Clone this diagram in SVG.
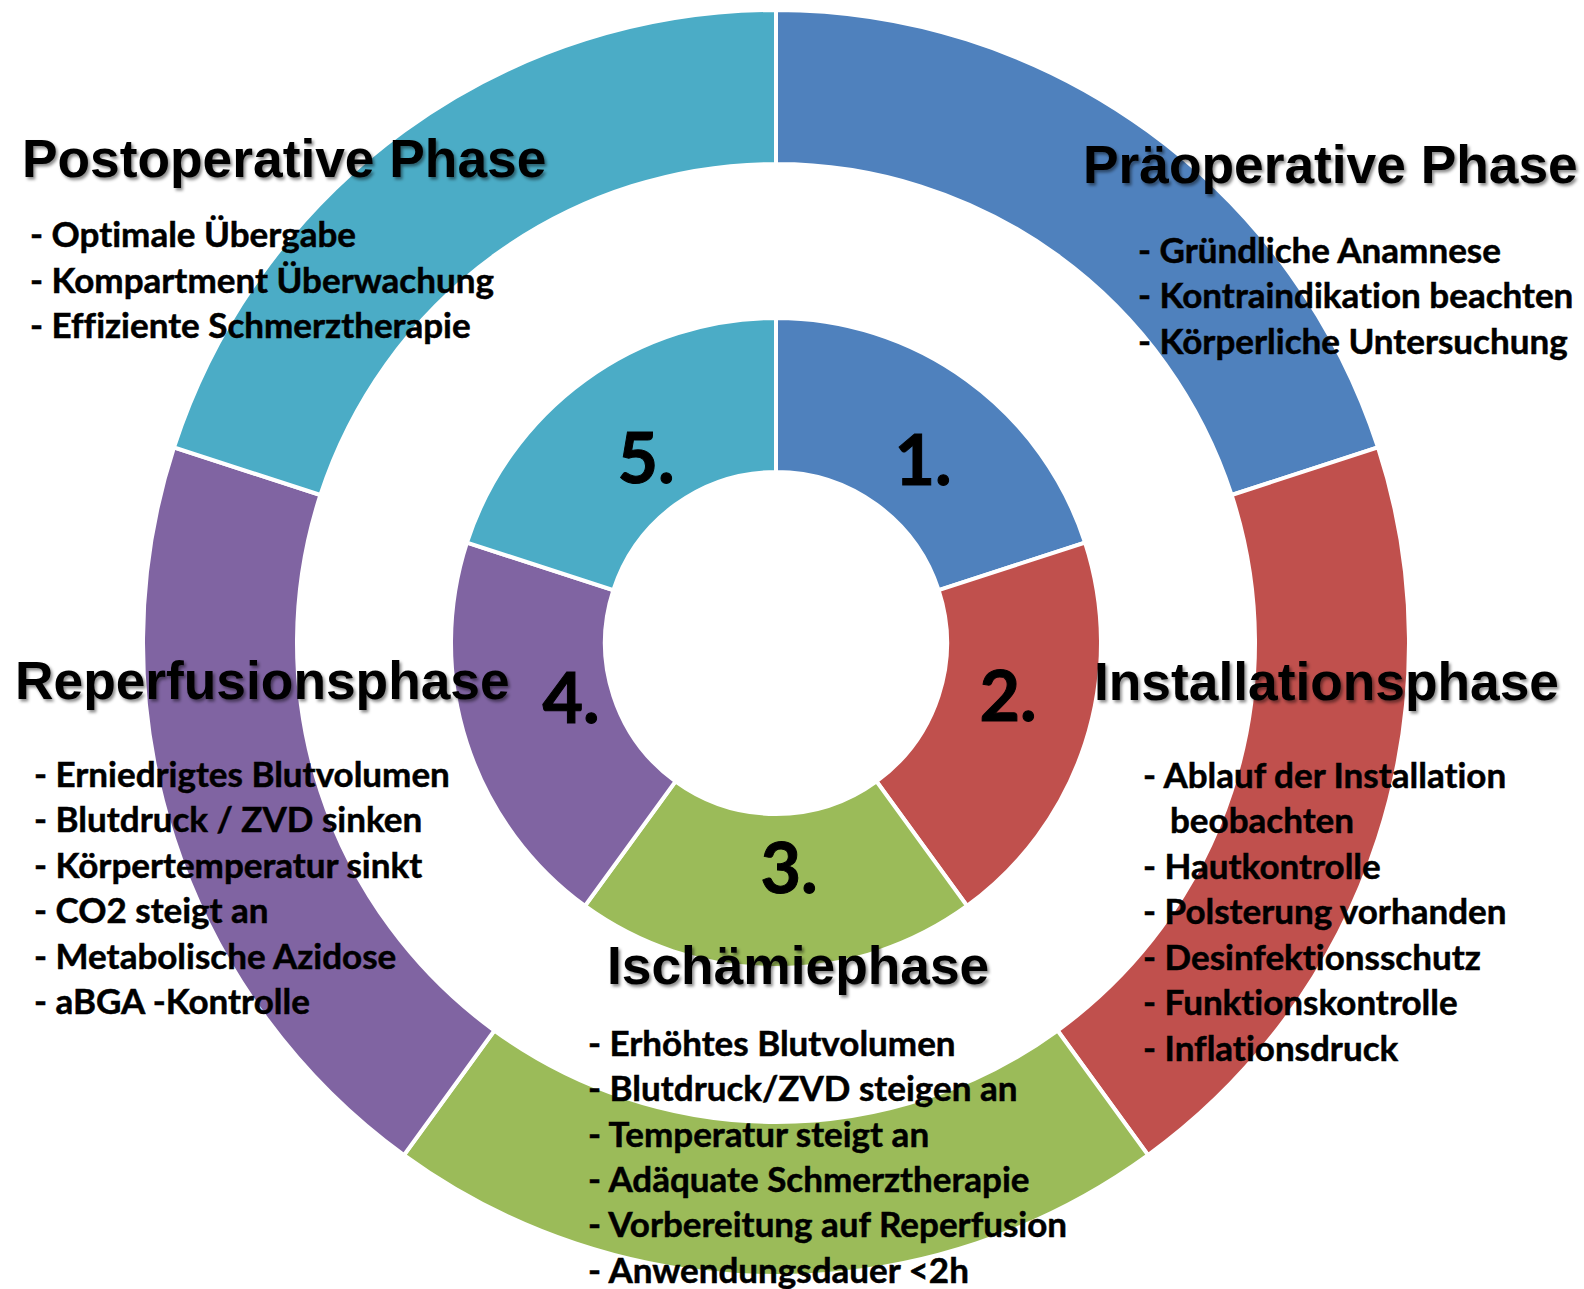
<svg xmlns="http://www.w3.org/2000/svg" width="1584" height="1289" viewBox="0 0 1584 1289">
  <defs>
    <filter id="titleShadow" x="-5%" y="-20%" width="110%" height="150%">
      <feDropShadow dx="2" dy="2.5" stdDeviation="1.6" flood-color="#000" flood-opacity="0.45"/>
    </filter>
    <style>
      .seg { stroke: #ffffff; stroke-width: 4; stroke-linejoin: miter; }
      .c1 { fill: #4f81bd; }
      .c2 { fill: #c0504d; }
      .c3 { fill: #9bbb59; }
      .c4 { fill: #8064a2; }
      .c5 { fill: #4bacc6; }
      .title { font-family: "Liberation Sans", Arial, sans-serif; font-weight: bold; font-size: 53.3px; fill: #000; filter: url(#titleShadow); }
      .item { font-family: Lato, "Open Sans", sans-serif; font-weight: bold; font-size: 35px; fill: #000; stroke: #000; stroke-width: 0.5px; font-variant-ligatures: none; }
      .num { font-family: Lato, "Open Sans", sans-serif; font-weight: bold; font-size: 70px; fill: #000; stroke: #000; stroke-width: 1px; text-anchor: middle; }
    </style>
  </defs>

  <rect width="1584" height="1289" fill="#ffffff"/>

  <!-- Ring segments: centre (776,643), outer ring 479-633, inner ring 171-325, 72 degrees each -->
  <g id="phase-1-ring">
    <path class="seg c1" d="M776,10 A633,633 0 0 1 1378.02,447.39 L1231.56,494.98 A479,479 0 0 0 776,164 Z"/>
    <path class="seg c1" d="M776,318 A325,325 0 0 1 1085.09,542.57 L938.63,590.16 A171,171 0 0 0 776,472 Z"/>
  </g>
  <g id="phase-2-ring">
    <path class="seg c2" d="M1378.02,447.39 A633,633 0 0 1 1148.07,1155.11 L1057.55,1030.52 A479,479 0 0 0 1231.56,494.98 Z"/>
    <path class="seg c2" d="M1085.09,542.57 A325,325 0 0 1 967.03,905.93 L876.51,781.34 A171,171 0 0 0 938.63,590.16 Z"/>
  </g>
  <g id="phase-3-ring">
    <path class="seg c3" d="M1148.07,1155.11 A633,633 0 0 1 403.93,1155.11 L494.45,1030.52 A479,479 0 0 0 1057.55,1030.52 Z"/>
    <path class="seg c3" d="M967.03,905.93 A325,325 0 0 1 584.97,905.93 L675.49,781.34 A171,171 0 0 0 876.51,781.34 Z"/>
  </g>
  <g id="phase-4-ring">
    <path class="seg c4" d="M403.93,1155.11 A633,633 0 0 1 173.98,447.39 L320.44,494.98 A479,479 0 0 0 494.45,1030.52 Z"/>
    <path class="seg c4" d="M584.97,905.93 A325,325 0 0 1 466.91,542.57 L613.37,590.16 A171,171 0 0 0 675.49,781.34 Z"/>
  </g>
  <g id="phase-5-ring">
    <path class="seg c5" d="M173.98,447.39 A633,633 0 0 1 776,10 L776,164 A479,479 0 0 0 320.44,494.98 Z"/>
    <path class="seg c5" d="M466.91,542.57 A325,325 0 0 1 776,318 L776,472 A171,171 0 0 0 613.37,590.16 Z"/>
  </g>

  <!-- Step numbers on the inner ring -->
  <g id="numbers">
    <text class="num" x="923" y="485">1.</text>
    <text class="num" x="1008" y="721">2.</text>
    <text class="num" x="789" y="893">3.</text>
    <text class="num" x="571" y="723">4.</text>
    <text class="num" x="646" y="483">5.</text>
  </g>

  <!-- Phase labels -->
  <g id="phase-1-label">
    <text class="title" x="1083" y="183">Präoperative Phase</text>
    <text class="item" x="1138" y="263">- Gründliche Anamnese</text>
    <text class="item" x="1138" y="308">- Kontraindikation beachten</text>
    <text class="item" x="1138" y="354">- Körperliche Untersuchung</text>
  </g>
  <g id="phase-2-label">
    <text class="title" x="1094" y="700">Installationsphase</text>
    <text class="item" x="1143" y="788">- Ablauf der Installation</text>
    <text class="item" x="1170" y="833">beobachten</text>
    <text class="item" x="1143" y="879">- Hautkontrolle</text>
    <text class="item" x="1143" y="924">- Polsterung vorhanden</text>
    <text class="item" x="1143" y="970">- Desinfektionsschutz</text>
    <text class="item" x="1143" y="1015">- Funktionskontrolle</text>
    <text class="item" x="1143" y="1061">- Inflationsdruck</text>
  </g>
  <g id="phase-3-label">
    <text class="title" x="607" y="984">Ischämiephase</text>
    <text class="item" x="588" y="1056">- Erhöhtes Blutvolumen</text>
    <text class="item" x="588" y="1101">- Blutdruck/ZVD steigen an</text>
    <text class="item" x="588" y="1147">- Temperatur steigt an</text>
    <text class="item" x="588" y="1192">- Adäquate Schmerztherapie</text>
    <text class="item" x="588" y="1237">- Vorbereitung auf Reperfusion</text>
    <text class="item" x="588" y="1283">- Anwendungsdauer &lt;2h</text>
  </g>
  <g id="phase-4-label">
    <text class="title" x="15" y="699">Reperfusionsphase</text>
    <text class="item" x="34" y="787">- Erniedrigtes Blutvolumen</text>
    <text class="item" x="34" y="832">- Blutdruck / ZVD sinken</text>
    <text class="item" x="34" y="878">- Körpertemperatur sinkt</text>
    <text class="item" x="34" y="923">- CO2 steigt an</text>
    <text class="item" x="34" y="969">- Metabolische Azidose</text>
    <text class="item" x="34" y="1014">- aBGA -Kontrolle</text>
  </g>
  <g id="phase-5-label">
    <text class="title" x="22" y="177">Postoperative Phase</text>
    <text class="item" x="30" y="247">- Optimale Übergabe</text>
    <text class="item" x="30" y="293">- Kompartment Überwachung</text>
    <text class="item" x="30" y="338">- Effiziente Schmerztherapie</text>
  </g>
</svg>
